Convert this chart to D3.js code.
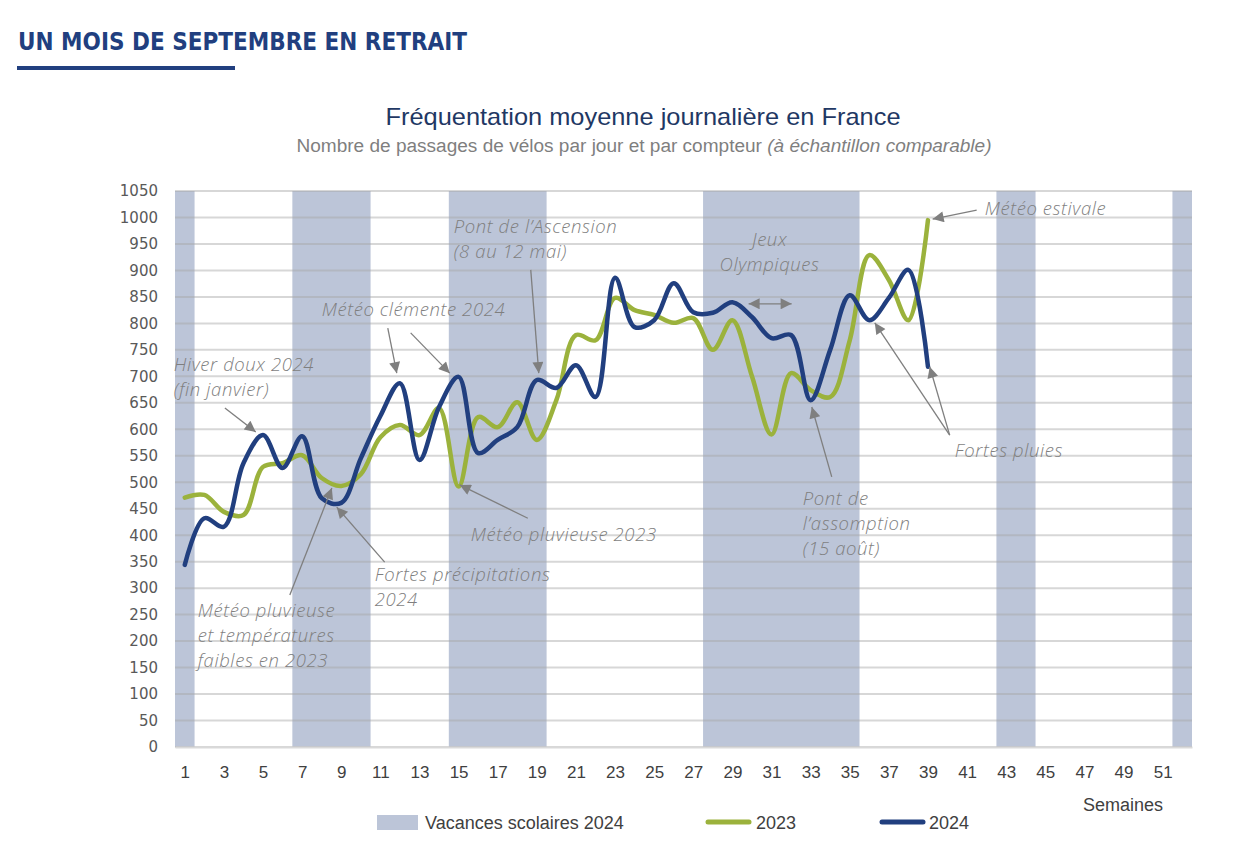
<!DOCTYPE html>
<html><head><meta charset="utf-8">
<script src="https://cdn.jsdelivr.net/npm/d3@7/dist/d3.min.js"></script>
<style>
html,body{margin:0;padding:0;background:#fff;}
svg{display:block;}
</style></head>
<body>
<svg id="c" width="1237" height="844"></svg>
<script>
// ---- data ----
const weeks = d3.range(1, 53);
const tickWeeks = d3.range(1, 52, 2);
const yTicks = d3.range(0, 1051, 50);
const values2023 = [471,476,444,438,529,536,551,508,493,515,585,608,589,640,492,623,604,651,580,655,778,768,848,825,816,801,810,750,806,700,590,706,674,661,768,929,882,806,995];
const values2024 = [344,432,416,536,589,527,587,470,461,545,625,687,542,642,699,555,580,604,693,678,721,661,886,793,806,876,821,820,840,812,772,778,655,750,853,806,848,901,718];
const vacStart = [1,7,15,28,43,52];
const vacEnd   = [1,10,19,35,44,52];
// annotations (week, value) positions
const annTexts = [
  {lines:["Hiver doux 2024","(fin janvier)"], w:0.44, v:710},
  {lines:["Météo clémente 2024"], w:8.0, v:814},
  {lines:["Pont de l’Ascension","(8 au 12 mai)"], w:14.75, v:971},
  {lines:["Jeux","Olympiques"], w:30.9, v:946, anchor:"middle"},
  {lines:["Météo estivale"], w:41.9, v:1005},
  {lines:["Fortes pluies"], w:40.37, v:548},
  {lines:["Pont de","l’assomption","(15 août)"], w:32.6, v:457},
  {lines:["Météo pluvieuse 2023"], w:15.62, v:389},
  {lines:["Fortes précipitations","2024"], w:10.71, v:313},
  {lines:["Météo pluvieuse","et températures","faibles en 2023"], w:1.66, v:245}
];
const annArrows = [
  {w1:3.05,v1:640,w2:4.63,v2:595},
  {w1:11.38,v1:791,w2:11.84,v2:706},
  {w1:12.55,v1:782,w2:14.55,v2:706},
  {w1:18.69,v1:901,w2:19.10,v2:706},
  {w1:41.49,v1:1014,w2:39.24,v2:997},
  {w1:40.11,v1:589,w2:36.28,v2:801},
  {w1:40.11,v1:589,w2:39.09,v2:718},
  {w1:34.08,v1:510,w2:33.06,v2:642},
  {w1:18.54,v1:432,w2:15.06,v2:495},
  {w1:11.22,v1:349,w2:8.77,v2:453},
  {w1:6.37,v1:287,w2:8.52,v2:489}
];
const dblArrows = [{w1:29.83,v1:837,w2:32.03,v2:837}];

// ---- styles ----
const BLUE = "#213f7f", GREEN = "#9bb23c", BAND = "#bcc5d8", GRAY = "#7f7f7f";
const svg = d3.select("#c");

const x = d3.scaleLinear().domain([0.5, 52.5]).range([175, 1192]);
const y = d3.scaleLinear().domain([0, 1050]).range([747, 191]);

// Header
svg.append("text").attr("x", 18).attr("y", 50)
  .attr("font-family", "'DejaVu Sans', sans-serif").attr("font-weight", "bold")
  .attr("font-size", 25).attr("fill", BLUE)
  .attr("textLength", 449).attr("lengthAdjust", "spacingAndGlyphs")
  .text("UN MOIS DE SEPTEMBRE EN RETRAIT");
svg.append("rect").attr("x", 17).attr("y", 66).attr("width", 218).attr("height", 4).attr("fill", BLUE);

svg.append("text").attr("x", 643).attr("y", 125).attr("text-anchor", "middle")
  .attr("font-family", "'Liberation Sans Narrow','Liberation Sans',sans-serif")
  .attr("font-size", 24).attr("fill", "#1f3864")
  .attr("textLength", 515).attr("lengthAdjust", "spacingAndGlyphs")
  .text("Fréquentation moyenne journalière en France");
const sub = svg.append("text").attr("x", 644).attr("y", 152).attr("text-anchor", "middle")
  .attr("font-family", "'Liberation Sans Narrow','Liberation Sans',sans-serif")
  .attr("font-size", 18).attr("fill", GRAY)
  .attr("textLength", 695).attr("lengthAdjust", "spacingAndGlyphs");
sub.append("tspan").text("Nombre de passages de vélos par jour et par compteur ");
sub.append("tspan").attr("font-style", "italic").text("(à échantillon comparable)");

// vacation bands
svg.append("g").selectAll("rect").data(vacStart).join("rect")
  .attr("x", (d) => x(d - 0.5))
  .attr("width", (d, i) => x(vacEnd[i] + 0.5) - x(d - 0.5))
  .attr("y", y(1050)).attr("height", y(0) - y(1050))
  .attr("fill", BAND);

// gridlines
svg.append("g").selectAll("line").data(yTicks).join("line")
  .attr("x1", x(0.5)).attr("x2", x(52.5))
  .attr("y1", (d) => y(d)).attr("y2", (d) => y(d))
  .attr("stroke", "#a6a6a6").attr("stroke-opacity", 0.45).attr("stroke-width", 2);

// y axis
const yAxis = svg.append("g").attr("transform", `translate(${x(0.5) - 17},0)`)
  .call(d3.axisLeft(y).tickValues(yTicks).tickFormat(d3.format("d")).tickSize(0).tickPadding(0));
yAxis.select(".domain").remove();
yAxis.selectAll("text").attr("font-family", "'DejaVu Sans',sans-serif").attr("font-size", 15).attr("fill", "#595959");

// x axis
const xAxis = svg.append("g").attr("transform", `translate(0,${y(0)})`)
  .call(d3.axisBottom(x).tickValues(tickWeeks).tickSize(0).tickPadding(19));
xAxis.select(".domain").attr("stroke", "#d9d9d9").attr("stroke-width", 2);
xAxis.selectAll("text").attr("font-family", "'Liberation Sans Narrow','Liberation Sans',sans-serif").attr("font-size", 17).attr("fill", "#404040");

svg.append("text").attr("x", 1163).attr("y", 811).attr("text-anchor", "end")
  .attr("font-family", "'Liberation Sans Narrow','Liberation Sans',sans-serif").attr("font-size", 18).attr("fill", "#404040")
  .text("Semaines");

// lines
const line = d3.line().x((d, i) => x(i + 1)).y((d) => y(d)).curve(d3.curveCatmullRom.alpha(0.5));
svg.append("path").datum(values2023).attr("d", line).attr("fill", "none")
  .attr("stroke", GREEN).attr("stroke-width", 4.5).attr("stroke-linejoin", "round").attr("stroke-linecap", "round");
svg.append("path").datum(values2024).attr("d", line).attr("fill", "none")
  .attr("stroke", BLUE).attr("stroke-width", 4.5).attr("stroke-linejoin", "round").attr("stroke-linecap", "round");

// arrow markers
const defs = svg.append("defs");
defs.append("marker").attr("id", "ah").attr("viewBox", "0 0 10 10").attr("refX", 10).attr("refY", 5)
  .attr("markerWidth", 13).attr("markerHeight", 11).attr("markerUnits", "userSpaceOnUse").attr("orient", "auto")
  .append("path").attr("d", "M0,0 L10,5 L0,10 Z").attr("fill", GRAY);
defs.append("marker").attr("id", "ahs").attr("viewBox", "0 0 10 10").attr("refX", 0).attr("refY", 5)
  .attr("markerWidth", 13).attr("markerHeight", 11).attr("markerUnits", "userSpaceOnUse").attr("orient", "auto")
  .append("path").attr("d", "M10,0 L0,5 L10,10 Z").attr("fill", GRAY);

svg.append("g").selectAll("line").data(annArrows).join("line")
  .attr("x1", (d) => x(d.w1)).attr("y1", (d) => y(d.v1))
  .attr("x2", (d) => x(d.w2)).attr("y2", (d) => y(d.v2))
  .attr("stroke", GRAY).attr("stroke-width", 1.3).attr("marker-end", "url(#ah)");
svg.append("g").selectAll("line").data(dblArrows).join("line")
  .attr("x1", (d) => x(d.w1)).attr("y1", (d) => y(d.v1))
  .attr("x2", (d) => x(d.w2)).attr("y2", (d) => y(d.v2))
  .attr("stroke", GRAY).attr("stroke-width", 1.3).attr("marker-end", "url(#ah)").attr("marker-start", "url(#ahs)");

// annotation texts
const at = svg.append("g").selectAll("text").data(annTexts).join("text")
  .attr("x", (d) => x(d.w)).attr("y", (d) => y(d.v))
  .attr("text-anchor", (d) => d.anchor || "start")
  .attr("font-family", "'Open Sans',sans-serif").attr("font-weight", 300).attr("font-style", "italic")
  .attr("font-size", 18.5).attr("letter-spacing", 0.6).attr("fill", GRAY);
at.each(function (d) {
  d3.select(this).selectAll("tspan").data(d.lines).join("tspan")
    .attr("x", x(d.w)).attr("dy", (l, i) => i === 0 ? 0 : 25).text((l) => l);
});

// legend
const lg = svg.append("g").attr("font-family", "'Liberation Sans Narrow','Liberation Sans',sans-serif").attr("font-size", 18).attr("fill", "#404040");
lg.append("rect").attr("x", 377).attr("y", 815).attr("width", 41).attr("height", 15).attr("fill", BAND);
lg.append("text").attr("x", 425).attr("y", 829).text("Vacances scolaires 2024");
lg.append("line").attr("x1", 708).attr("x2", 749).attr("y1", 822).attr("y2", 822).attr("stroke", GREEN).attr("stroke-width", 5).attr("stroke-linecap", "round");
lg.append("text").attr("x", 756).attr("y", 829).text("2023");
lg.append("line").attr("x1", 882).attr("x2", 923).attr("y1", 822).attr("y2", 822).attr("stroke", BLUE).attr("stroke-width", 5).attr("stroke-linecap", "round");
lg.append("text").attr("x", 929).attr("y", 829).text("2024");
</script>
</body></html>
